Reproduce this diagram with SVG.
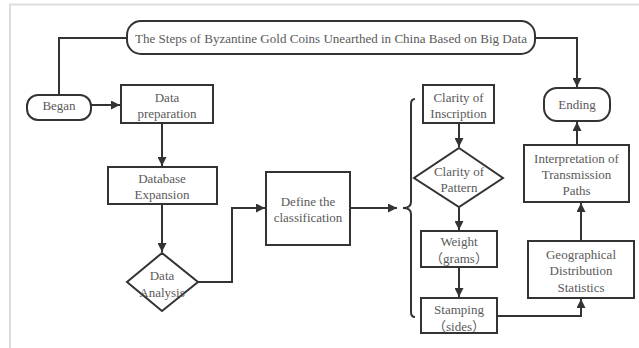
<svg xmlns="http://www.w3.org/2000/svg" width="639" height="348" viewBox="0 0 639 348">
<style>
.box{fill:#fff;stroke:#333;stroke-width:2}
.ln{fill:none;stroke:#333;stroke-width:2}
.frame{fill:none;stroke:#ddd;stroke-width:2}
.t{font-family:'Liberation Serif','Times New Roman','Noto Sans CJK SC',serif;font-size:13px;fill:#5a5a5a;text-anchor:middle}
</style>
<defs>
<marker id="ah" markerUnits="userSpaceOnUse" markerWidth="10" markerHeight="9" refX="9" refY="4.5" orient="auto">
<path d="M0,0 L9,4.5 L0,9 z" fill="#333"/>
</marker>
</defs>
<path class="frame" d="M10,348 L10,4.5 L639,4.5"/>
<g id="connectors">
<path class="ln" d="M59,95 L59,38 L127,38"/>
<path class="ln" d="M535,38 L577,38 L577,87" marker-end="url(#ah)"/>
<path class="ln" d="M91,105 L120,105" marker-end="url(#ah)"/>
<path class="ln" d="M162,123 L162,166" marker-end="url(#ah)"/>
<path class="ln" d="M162,204 L162,252" marker-end="url(#ah)"/>
<path class="ln" d="M198,282 L232,282 L232,208 L265,208" marker-end="url(#ah)"/>
<path class="ln" d="M350,208 L397,208" marker-end="url(#ah)"/>
<path class="ln" d="M415,99 Q411,99 411,104 L411,202 Q411,208 403,208 Q411,208 411,214 L411,312 Q411,317 415,317"/>
<path class="ln" d="M459,123 L459,147" marker-end="url(#ah)"/>
<path class="ln" d="M459,207 L459,230" marker-end="url(#ah)"/>
<path class="ln" d="M459,267 L459,297" marker-end="url(#ah)"/>
<path class="ln" d="M497,316 L581,316 L581,299" marker-end="url(#ah)"/>
<path class="ln" d="M581,241 L581,203" marker-end="url(#ah)"/>
<path class="ln" d="M577,145 L577,122" marker-end="url(#ah)"/>
</g>
<g id="title">
<rect class="box" x="127" y="21" width="408" height="33" rx="14"/>
<text class="t" x="331" y="42.5" style="font-size:13.5px" textLength="392" lengthAdjust="spacingAndGlyphs">The Steps of Byzantine Gold Coins Unearthed in China Based on Big Data</text>
</g>
<g id="began">
<rect class="box" x="27" y="95" width="64" height="25" rx="11"/>
<text class="t" x="59" y="109.5">Began</text>
</g>
<g id="data-preparation">
<rect class="box" x="121" y="85" width="92" height="38"/>
<text class="t" x="167" y="101.5">Data</text>
<text class="t" x="167" y="117.5">preparation</text>
</g>
<g id="database-expansion">
<rect class="box" x="108" y="167" width="109" height="37"/>
<text class="t" x="162" y="182.5">Database</text>
<text class="t" x="162" y="198.5">Expansion</text>
</g>
<g id="data-analysis">
<polygon class="box" points="162,253 198,282 162,311 127,282"/>
<text class="t" x="162" y="279.5">Data</text>
<text class="t" x="162" y="296.5">Analysis</text>
</g>
<g id="define-classification">
<rect class="box" x="266" y="172" width="84" height="73"/>
<text class="t" x="308" y="205.5">Define the</text>
<text class="t" x="308" y="221.5">classification</text>
</g>
<g id="clarity-inscription">
<rect class="box" x="423" y="85" width="71" height="38"/>
<text class="t" x="458.5" y="101.5">Clarity of</text>
<text class="t" x="458.5" y="117.5">Inscription</text>
</g>
<g id="clarity-pattern">
<polygon class="box" points="459,148 503,178 459,207 414,178"/>
<text class="t" x="459" y="175.5">Clarity of</text>
<text class="t" x="459" y="191.5">Pattern</text>
</g>
<g id="weight">
<rect class="box" x="421" y="231" width="76" height="36"/>
<text class="t" x="459" y="245.5">Weight</text>
<text class="t" x="459" y="262.5">（grams）</text>
</g>
<g id="stamping">
<rect class="box" x="421" y="298" width="76" height="35"/>
<text class="t" x="459" y="313.5">Stamping</text>
<text class="t" x="459" y="330.5">（sides）</text>
</g>
<g id="geographical">
<rect class="box" x="528" y="241" width="106" height="57"/>
<text class="t" x="581" y="258.5">Geographical</text>
<text class="t" x="581" y="274.5">Distribution</text>
<text class="t" x="581" y="291.5">Statistics</text>
</g>
<g id="interpretation">
<rect class="box" x="524" y="145" width="105" height="57"/>
<text class="t" x="576.5" y="162.5">Interpretation of</text>
<text class="t" x="576.5" y="178.5">Transmission</text>
<text class="t" x="576.5" y="194.5">Paths</text>
</g>
<g id="ending">
<rect class="box" x="544" y="88" width="66" height="33" rx="13"/>
<text class="t" x="577" y="109">Ending</text>
</g>
</svg>
